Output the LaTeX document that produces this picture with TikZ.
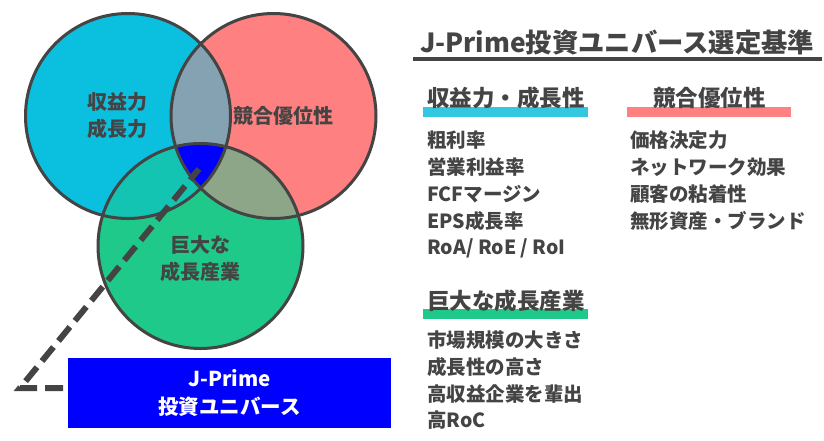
\documentclass[tikz,border=0pt]{standalone}
\usepackage{fontspec}
\setmainfont{Noto Sans CJK JP}
\definecolor{cyanC}{HTML}{0BBFDF}
\definecolor{redC}{HTML}{FF8080}
\definecolor{greenC}{HTML}{1EC98A}
\definecolor{blueRed}{HTML}{84A2B2}
\definecolor{blueGreen}{HTML}{13C4B3}
\definecolor{redGreen}{HTML}{8CA687}
\definecolor{tripleC}{HTML}{0000FF}
\definecolor{ink}{HTML}{444444}
\definecolor{barCyan}{HTML}{33C8E0}
\begin{document}
\begin{tikzpicture}[x=1pt,y=-1pt,
  outline/.style={draw=ink,line width=3pt},
  vlabel/.style={font=\fontsize{20}{27}\selectfont\bfseries,text=ink,align=center,inner sep=0pt},
  title/.style={font=\fontsize{26.3}{30}\selectfont\bfseries,text=ink,inner sep=0pt,anchor=west},
  header/.style={font=\fontsize{22.5}{26}\selectfont\bfseries,text=ink,inner sep=0pt,anchor=west},
  item/.style={font=\fontsize{19.5}{22}\selectfont\bfseries,text=ink,inner sep=0pt,anchor=west},
  dashline/.style={draw=ink,line width=6pt,dash pattern=on 18pt off 8pt,dash phase=4pt}
]
\useasboundingbox (0,0) rectangle (824,440);
\fill[white] (0,0) rectangle (824,440);
\def\R{102.5}
% circle fills
\fill[cyanC] (128,116) circle (\R);
\fill[redC] (273.5,116) circle (\R);
\fill[greenC] (200.5,246) circle (\R);
\begin{scope}\clip (128,116) circle (\R);\fill[blueRed] (273.5,116) circle (\R);\end{scope}
\begin{scope}\clip (128,116) circle (\R);\fill[blueGreen] (200.5,246) circle (\R);\end{scope}
\begin{scope}\clip (273.5,116) circle (\R);\fill[redGreen] (200.5,246) circle (\R);\end{scope}
\begin{scope}\clip (128,116) circle (\R);\clip (273.5,116) circle (\R);\fill[tripleC] (200.5,246) circle (\R);\end{scope}
% outlines
\draw[outline] (128,116) circle (\R);
\draw[outline] (273.5,116) circle (\R);
\draw[outline] (200.5,246) circle (\R);
% venn labels
\node[vlabel] (lblA) at (117,116) {収益力\\成長力};
\node[vlabel] (lblB) at (283,116) {競合優位性};
\node[vlabel] (lblC) at (200,259) {巨大な\\成長産業};
% universe box
\node[fill=tripleC,minimum width=323pt,minimum height=70pt,inner sep=0pt,text=white,align=center,
  font=\fontsize{20.5}{28}\selectfont\bfseries] (box) at (229.5,393) {J-Prime\\投資ユニバース};
% dashed connector
\coordinate (tri) at (199,169);
\coordinate (corner) at (20,388);
\coordinate (dend) at (63,388);
\draw[dashline] (tri) -- (corner) -- (dend);
% title
\node[title] (ttl) at (420,42.5) {J-Prime投資ユニバース選定基準};
\draw[draw=ink,line width=4pt] (413,59) -- (822,59);
% bars
\fill[barCyan] (423,107) rectangle (588,117);
\fill[redC] (627,107) rectangle (791,117);
\fill[greenC] (423,309) rectangle (588,319);
% headers
\node[header] (h1) at (427,98) {収益力・成長性};
\node[header] (h2) at (653,98) {競合優位性};
\node[header] (h3) at (427,301) {巨大な成長産業};
% items left
\node[item] (a1) at (427,140) {粗利率};
\node[item] (a2) at (427,167) {営業利益率};
\node[item] (a3) at (427,194) {FCFマージン};
\node[item] (a4) at (427,221) {EPS成長率};
\node[item] (a5) at (427,248) {RoA/ RoE / RoI};
% items right
\node[item] (b1) at (630,140) {価格決定力};
\node[item] (b2) at (630,167) {ネットワーク効果};
\node[item] (b3) at (630,194) {顧客の粘着性};
\node[item] (b4) at (630,221) {無形資産・ブランド};
% items bottom
\node[item] (c1) at (427,340) {市場規模の大きさ};
\node[item] (c2) at (427,367) {成長性の高さ};
\node[item] (c3) at (427,394) {高収益企業を輩出};
\node[item] (c4) at (427,420) {高RoC};
\end{tikzpicture}
\end{document}
